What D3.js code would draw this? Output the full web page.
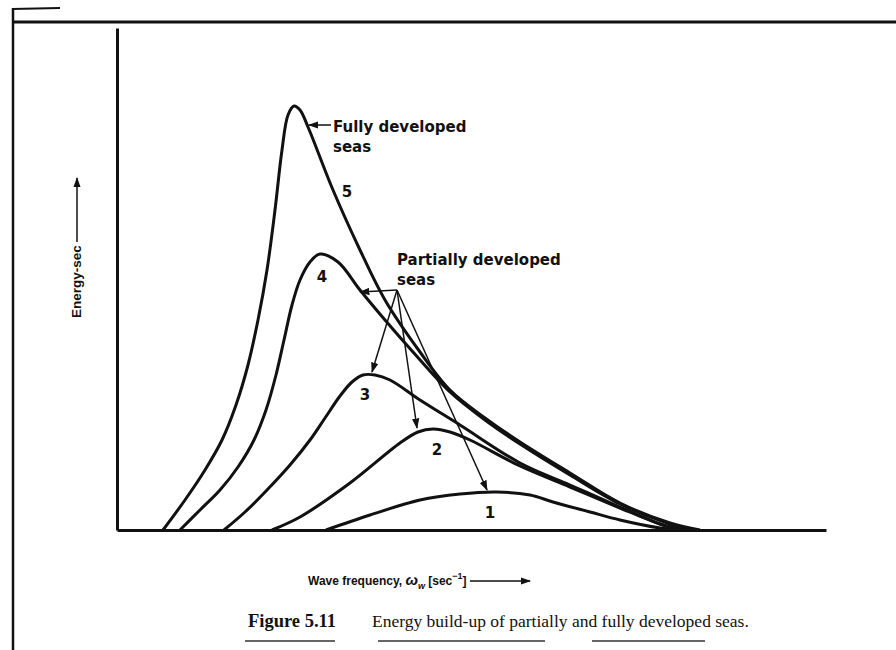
<!DOCTYPE html>
<html>
<head>
<meta charset="utf-8">
<script src="https://cdn.jsdelivr.net/npm/d3@7"></script>
<style>
body { margin: 0; background: #fff; }
svg { display: block; }
.note { font-family: "DejaVu Sans", "Liberation Sans", sans-serif; font-weight: bold; font-size: 15px; fill: #111; }
.caption { font-family: "Liberation Serif", "Times New Roman", serif; font-size: 17.5px; fill: #111; }
</style>
</head>
<body>
<div id="chart"></div>
<script>
var svgWidth = 896;
var svgHeight = 650;

var margin = { top: 28, right: 70, bottom: 120, left: 117 };
var width = svgWidth - margin.left - margin.right;
var height = svgHeight - margin.top - margin.bottom;

// sea states, 1 = youngest ... 5 = fully developed
var seaStates = ["1", "2", "3", "4", "5"];

var freq1 = [2.09, 2.53, 3.03, 3.43, 3.80, 4.13, 4.36, 4.73, 5.03, 5.43, 5.63];
var energy1 = [0, 0.15, 0.30, 0.36, 0.38, 0.35, 0.28, 0.18, 0.10, 0.02, 0];

var freq2 = [1.55, 1.83, 2.33, 2.83, 3.01, 3.16, 3.33, 3.53, 4.03, 4.53, 5.03, 5.43, 5.63];
var energy2 = [0, 0.13, 0.47, 0.87, 0.98, 1.01, 0.98, 0.90, 0.64, 0.43, 0.22, 0.06, 0];

var freq3 = [1.07, 1.28, 1.50, 1.73, 1.93, 2.08, 2.23, 2.35, 2.46, 2.58, 2.73, 3.03, 3.43, 4.03, 4.53, 5.03, 5.43, 5.68];
var energy3 = [0, 0.18, 0.40, 0.65, 0.90, 1.12, 1.34, 1.48, 1.55, 1.55, 1.50, 1.30, 1.05, 0.67, 0.45, 0.23, 0.06, 0];

var freq4 = [0.63, 0.83, 1.03, 1.21, 1.37, 1.49, 1.59, 1.67, 1.75, 1.83, 1.93, 2.03, 2.21, 2.43, 2.68, 2.96, 3.33, 3.68, 4.03, 4.53, 5.03, 5.53, 5.78];
var energy4 = [0, 0.20, 0.40, 0.63, 0.90, 1.20, 1.55, 1.90, 2.25, 2.50, 2.68, 2.76, 2.68, 2.40, 2.10, 1.78, 1.38, 1.10, 0.86, 0.55, 0.26, 0.06, 0];

var freq5 = [0.46, 0.68, 0.88, 1.05, 1.19, 1.31, 1.41, 1.50, 1.58, 1.65, 1.71, 1.77, 1.83, 1.91, 2.16, 2.43, 2.68, 3.03, 3.33, 3.68, 4.03, 4.53, 5.03, 5.53, 5.83];
var energy5 = [0, 0.30, 0.60, 0.90, 1.25, 1.65, 2.10, 2.60, 3.20, 3.80, 4.15, 4.24, 4.20, 4.03, 3.40, 2.80, 2.30, 1.78, 1.40, 1.12, 0.88, 0.57, 0.27, 0.07, 0];

// where each curve number sits
var stateLabelFreq = [3.73, 3.20, 2.48, 2.05, 2.30];
var stateLabelEnergy = [0.12, 0.75, 1.30, 2.48, 3.33];

var svg = d3.select("#chart")
    .append("svg")
    .attr("width", svgWidth)
    .attr("height", svgHeight);

var defs = svg.append("defs");
defs.append("marker")
    .attr("id", "head")
    .attr("viewBox", "0 0 10 10")
    .attr("refX", 9)
    .attr("refY", 5)
    .attr("markerWidth", 7)
    .attr("markerHeight", 7)
    .attr("orient", "auto")
    .append("path")
    .attr("d", "M0,1.5 L10,5 L0,8.5 Z")
    .attr("fill", "#111");

// scan frame and page rules
svg.append("line").attr("x1", 13).attr("y1", 8).attr("x2", 13).attr("y2", 650)
    .attr("stroke", "#111").attr("stroke-width", 2.5);
svg.append("line").attr("x1", 12).attr("y1", 22).attr("x2", 896).attr("y2", 22)
    .attr("stroke", "#111").attr("stroke-width", 3);
svg.append("line").attr("x1", 12).attr("y1", 9).attr("x2", 60).attr("y2", 8)
    .attr("stroke", "#111").attr("stroke-width", 2);

var ruleStart = [245, 378, 592];
var ruleEnd = [335, 545, 705];
svg.selectAll(".rule")
    .data(ruleStart)
    .enter()
    .append("line")
    .classed("rule", true)
    .attr("x1", d => d)
    .attr("x2", (d, i) => ruleEnd[i])
    .attr("y1", 641)
    .attr("y2", 641)
    .attr("stroke", "#333")
    .attr("stroke-width", 1.5);

var chartGroup = svg.append("g")
    .attr("transform", `translate(${margin.left}, ${margin.top})`);

var xScale = d3.scaleLinear()
    .domain([0, 7.09])
    .range([0, width]);

var yScale = d3.scaleLinear()
    .domain([0, 5.02])
    .range([height, 0]);

// plain axes, no ticks
var bottomAxis = d3.axisBottom(xScale).tickValues([]).tickSizeOuter(0);
var leftAxis = d3.axisLeft(yScale).tickValues([]).tickSizeOuter(0);

chartGroup.append("g")
    .attr("transform", `translate(0, ${height})`)
    .call(bottomAxis)
    .select(".domain")
    .attr("stroke", "#111")
    .attr("stroke-width", 3);

chartGroup.append("g")
    .call(leftAxis)
    .select(".domain")
    .attr("stroke", "#111")
    .attr("stroke-width", 3);

var series = [
    d3.zip(freq1, energy1),
    d3.zip(freq2, energy2),
    d3.zip(freq3, energy3),
    d3.zip(freq4, energy4),
    d3.zip(freq5, energy5)
];

var line = d3.line()
    .x(d => xScale(d[0]))
    .y(d => yScale(d[1]))
    .curve(d3.curveCatmullRom.alpha(0.5));

chartGroup.selectAll(".spectrum")
    .data(series)
    .enter()
    .append("path")
    .classed("spectrum", true)
    .attr("d", line)
    .attr("fill", "none")
    .attr("stroke", "#111")
    .attr("stroke-width", 3)
    .attr("stroke-linejoin", "round");

chartGroup.selectAll(".stateLabel")
    .data(seaStates)
    .enter()
    .append("text")
    .classed("note", true)
    .attr("x", (d, i) => xScale(stateLabelFreq[i]))
    .attr("y", (d, i) => yScale(stateLabelEnergy[i]))
    .attr("text-anchor", "middle")
    .text(d => d);

// "Fully developed seas" callout
chartGroup.append("line")
    .attr("x1", xScale(2.14)).attr("y1", yScale(4.05))
    .attr("x2", xScale(1.92)).attr("y2", yScale(4.05))
    .attr("stroke", "#111").attr("stroke-width", 1.5)
    .attr("marker-end", "url(#head)");

var fully = chartGroup.append("text")
    .classed("note", true)
    .attr("x", xScale(2.16))
    .attr("y", yScale(3.98));
fully.append("tspan").text("Fully developed");
fully.append("tspan").attr("x", xScale(2.16)).attr("dy", 20).text("seas");

// "Partially developed seas" callout
var partial = chartGroup.append("text")
    .classed("note", true)
    .attr("x", xScale(2.80))
    .attr("y", yScale(2.65));
partial.append("tspan").text("Partially developed");
partial.append("tspan").attr("x", xScale(2.80)).attr("dy", 20).text("seas");

var apexF = 2.80, apexE = 2.40;
var pointerFreq = [2.43, 2.55, 3.00, 3.70];
var pointerEnergy = [2.38, 1.58, 1.02, 0.40];

chartGroup.selectAll(".pointer")
    .data(pointerFreq)
    .enter()
    .append("line")
    .classed("pointer", true)
    .attr("x1", xScale(apexF))
    .attr("y1", yScale(apexE))
    .attr("x2", d => xScale(d))
    .attr("y2", (d, i) => yScale(pointerEnergy[i]))
    .attr("stroke", "#111")
    .attr("stroke-width", 1.5)
    .attr("marker-end", "url(#head)");

// axis labels
var xLabel = svg.append("text")
    .attr("x", 308)
    .attr("y", 585)
    .style("font-family", "'Liberation Sans', sans-serif")
    .style("font-weight", "bold")
    .style("font-size", "12px")
    .attr("fill", "#111");
xLabel.append("tspan").text("Wave frequency, ");
xLabel.append("tspan").style("font-style", "italic").style("font-size", "15px").text("ω");
xLabel.append("tspan").style("font-style", "italic").style("font-size", "9px").attr("dy", 4).text("w");
xLabel.append("tspan").attr("dy", -4).text(" [sec");
xLabel.append("tspan").style("font-size", "9px").attr("dy", -6).text("−1");
xLabel.append("tspan").attr("dy", 6).text("]");

svg.append("line")
    .attr("x1", 470).attr("y1", 581)
    .attr("x2", 530).attr("y2", 581)
    .attr("stroke", "#111").attr("stroke-width", 1.5)
    .attr("marker-end", "url(#head)");

svg.append("text")
    .attr("transform", "translate(81, 318) rotate(-90)")
    .style("font-family", "'Liberation Sans', sans-serif")
    .style("font-weight", "bold")
    .style("font-size", "13.5px")
    .attr("fill", "#111")
    .text("Energy-sec");

svg.append("line")
    .attr("x1", 77).attr("y1", 242)
    .attr("x2", 77).attr("y2", 178)
    .attr("stroke", "#111").attr("stroke-width", 1.5)
    .attr("marker-end", "url(#head)");

// caption
var caption = svg.append("text")
    .classed("caption", true)
    .attr("x", 248)
    .attr("y", 627);
caption.append("tspan").style("font-weight", "bold").style("font-size", "18.5px").text("Figure 5.11");
caption.append("tspan").attr("x", 372).text("Energy build-up of partially and fully developed seas.");
</script>
</body>
</html>
